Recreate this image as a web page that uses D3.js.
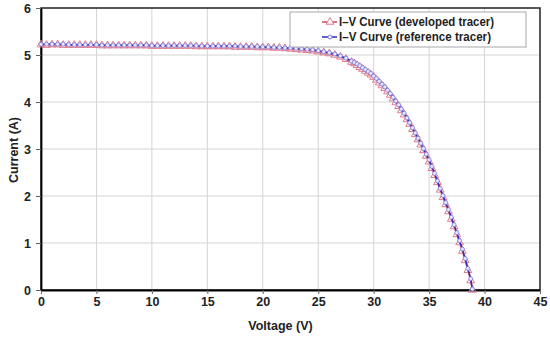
<!DOCTYPE html>
<html>
<head>
<meta charset="utf-8">
<script src="https://cdn.jsdelivr.net/npm/d3@7"></script>
<style>
  body { margin: 0; background: #fff; }
  text { font-family: "Liberation Sans", Arial, sans-serif; font-weight: bold; }
</style>
</head>
<body>
<div id="chart"></div>
<script>
const voltage = [0,0.5,1,1.5,2,2.5,3,3.5,4,4.5,5,5.5,6,6.5,7,7.5,8,8.5,9,9.5,
    10,10.5,11,11.5,12,12.5,13,13.5,14,14.5,15,15.5,16,16.5,17,17.5,18,18.5,19,19.5,
    20,20.5,21,21.5,22,22.5,23,23.5,24,24.5,25,25.5,26,26.5,27,27.5,28,
    28.25,28.5,28.75,29,29.25,29.5,29.75,30,30.25,30.5,30.75,
    31,31.25,31.5,31.75,32,32.25,32.5,32.75,33,33.25,33.5,
    33.75,34,34.25,34.5,34.75,35,35.25,35.5,35.75,36,36.25,
    36.5,36.75,37,37.25,37.5,37.75,38,38.25,38.5,38.75,38.9];

const devCurrent = [5.22,5.21,5.22,5.22,5.21,5.21,5.21,5.21,5.21,5.21,
    5.21,5.20,5.20,5.20,5.20,5.20,5.20,5.20,5.20,5.20,
    5.19,5.19,5.19,5.19,5.19,5.19,5.19,5.19,5.18,5.18,
    5.18,5.18,5.18,5.18,5.18,5.17,5.17,5.17,5.17,5.16,
    5.16,5.16,5.15,5.15,5.14,5.13,5.12,5.11,5.10,5.09,
    5.07,5.05,5.03,5.00,4.96,4.91,4.85,
    4.82,4.78,4.74,4.70,4.66,4.62,4.58,4.53,4.47,4.41,4.35,
    4.29,4.22,4.15,4.07,3.99,3.91,3.82,3.73,3.63,3.53,3.42,
    3.31,3.20,3.09,2.97,2.85,2.73,2.59,2.44,2.29,2.13,1.97,
    1.82,1.67,1.51,1.35,1.18,1.01,0.83,0.63,0.42,0.20,
    0.00];

const refCurrent = [5.23,5.23,5.23,5.23,5.23,5.22,5.22,5.22,5.22,5.22,
    5.22,5.21,5.21,5.21,5.21,5.21,5.21,5.21,5.21,5.21,
    5.20,5.20,5.20,5.20,5.20,5.20,5.20,5.20,5.20,5.19,
    5.19,5.19,5.19,5.19,5.19,5.19,5.18,5.18,5.18,5.18,
    5.17,5.17,5.16,5.16,5.15,5.15,5.14,5.13,5.12,5.11,
    5.09,5.07,5.05,5.02,4.98,4.93,4.87,
    4.84,4.81,4.77,4.73,4.69,4.65,4.61,4.55,4.50,4.44,4.38,
    4.32,4.25,4.18,4.10,4.02,3.94,3.85,3.76,3.66,3.56,3.45,
    3.34,3.23,3.12,3.01,2.89,2.77,2.63,2.48,2.32,2.16,2.01,
    1.86,1.71,1.55,1.39,1.22,1.05,0.87,0.67,0.46,0.24,
    0.02];

const xTicks = [0,5,10,15,20,25,30,35,40,45];
const yTicks = [0,1,2,3,4,5,6];
const seriesNames = ['I\u2013V Curve (developed tracer)', 'I\u2013V Curve (reference tracer)'];

let margin = { top: 8, left: 41, right: 10, bottom: 47 };
let width = 550 - margin.left - margin.right;
let height = 337 - margin.top - margin.bottom;

const devData = voltage.map((v, i) => ({ v: v, i: devCurrent[i] }));
const refData = voltage.map((v, i) => ({ v: v, i: refCurrent[i] }));

let svg = d3.select('#chart')
    .append('svg')
    .attr('width', 550)
    .attr('height', 337)
    .append('g')
    .attr('transform', 'translate(' + margin.left + ',' + margin.top + ')');

const xScale = d3.scaleLinear().domain([0, 45]).range([0, width]);
const yScale = d3.scaleLinear().domain([0, 6]).range([height, 0]);

// grid
svg.append('g')
    .selectAll('line')
    .data(xTicks.slice(1, -1))
    .enter().append('line')
    .attr('x1', d => xScale(d)).attr('x2', d => xScale(d))
    .attr('y1', 0).attr('y2', height)
    .attr('stroke', '#d4d4d4');
svg.append('g')
    .selectAll('line')
    .data(yTicks.slice(1, -1))
    .enter().append('line')
    .attr('y1', d => yScale(d)).attr('y2', d => yScale(d))
    .attr('x1', 0).attr('x2', width)
    .attr('stroke', '#d4d4d4');

// frame
svg.append('rect')
    .attr('width', width).attr('height', height)
    .attr('fill', 'none').attr('stroke', '#222').attr('stroke-width', 1.5);

// axes
const xAxis = d3.axisBottom(xScale).tickValues(xTicks).tickFormat(d3.format('d'))
    .tickSize(4).tickSizeOuter(0).tickPadding(3);
const yAxis = d3.axisLeft(yScale).tickValues(yTicks).tickFormat(d3.format('d'))
    .tickSize(5).tickSizeOuter(0).tickPadding(5);

let gx = svg.append('g').attr('transform', `translate(0, ${height})`).call(xAxis);
let gy = svg.append('g').call(yAxis);
[gx, gy].forEach(g => {
    g.select('.domain').attr('stroke', '#000').attr('stroke-width', 1.8);
    g.selectAll('.tick line').attr('stroke', '#666');
    g.selectAll('.tick text').attr('fill', '#222').style('font-size', '12.5px');
});

const line = d3.line().x(d => xScale(d.v)).y(d => yScale(d.i));
const triangle = d3.symbol().type(d3.symbolTriangle).size(26);

// developed tracer (red, triangles)
svg.append('path')
    .datum(devData)
    .attr('d', line)
    .attr('fill', 'none')
    .attr('stroke', '#d0455e')
    .attr('stroke-width', 1.5);
svg.append('g')
    .selectAll('path')
    .data(devData)
    .enter().append('path')
    .attr('d', triangle)
    .attr('transform', d => `translate(${xScale(d.v)},${yScale(d.i)})`)
    .attr('fill', 'none')
    .attr('stroke', '#e07a8c')
    .attr('stroke-width', 1);

// reference tracer (blue, circles)
svg.append('path')
    .datum(refData)
    .attr('d', line)
    .attr('fill', 'none')
    .attr('stroke', '#2a2ab8')
    .attr('stroke-width', 1.5);
svg.append('g')
    .selectAll('circle')
    .data(refData)
    .enter().append('circle')
    .attr('cx', d => xScale(d.v))
    .attr('cy', d => yScale(d.i))
    .attr('r', 2)
    .attr('fill', '#e8e8ff')
    .attr('stroke', '#7a7ae0')
    .attr('stroke-width', 0.8);

// axis titles
svg.append('text')
    .attr('x', width / 2 - 10)
    .attr('y', height + 40)
    .attr('text-anchor', 'middle')
    .attr('fill', '#222')
    .style('font-size', '12.5px')
    .text('Voltage (V)');

svg.append('text')
    .attr('transform', 'rotate(-90)')
    .attr('x', -(yScale(3) + 1))
    .attr('y', -margin.left + 18)
    .attr('text-anchor', 'middle')
    .attr('fill', '#222')
    .style('font-size', '12.5px')
    .text('Current (A)');

// legend
let legend = svg.append('g').attr('transform', 'translate(249, 4)');
legend.append('rect')
    .attr('width', 236).attr('height', 35)
    .attr('fill', '#fff').attr('stroke', '#a8a8a8');
seriesNames.forEach((name, k) => {
    let row = legend.append('g').attr('transform', `translate(0, ${10 + k * 15})`);
    row.append('line')
        .attr('x1', 32).attr('x2', 47)
        .attr('stroke', k === 0 ? '#d0455e' : '#2a2ab8').attr('stroke-width', 1.5);
    if (k === 0) {
        row.append('path').attr('d', triangle).attr('transform', 'translate(40,0)')
            .attr('fill', '#fff').attr('stroke', '#e07a8c');
    } else {
        row.append('circle').attr('cx', 40).attr('r', 2)
            .attr('fill', '#fff').attr('stroke', '#7a7ae0');
    }
    row.append('text')
        .attr('x', 49)
        .attr('dy', '0.35em')
        .attr('fill', '#222')
        .style('font-size', '12.5px')
        .attr('textLength', k === 0 ? 155 : 152)
        .attr('lengthAdjust', 'spacingAndGlyphs')
        .text(name);
});
</script>
</body>
</html>
